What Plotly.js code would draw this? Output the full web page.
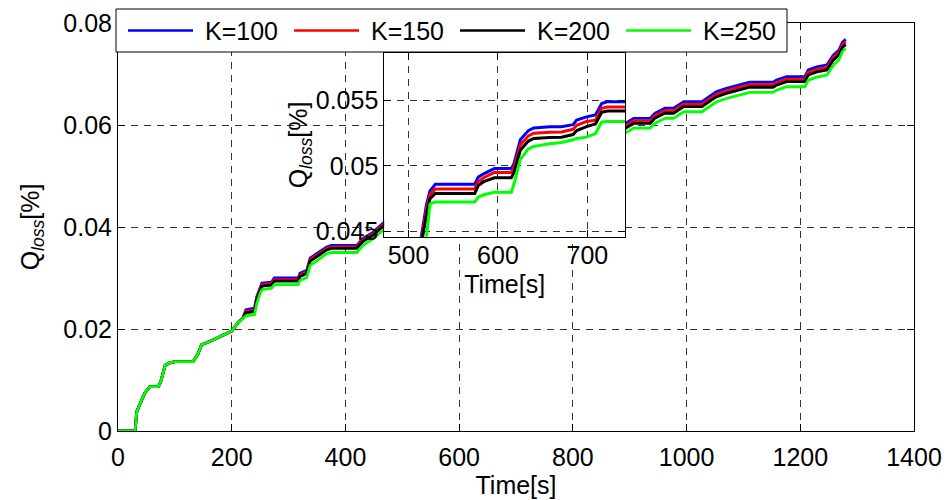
<!DOCTYPE html>
<html><head><meta charset="utf-8">
<script src="https://cdn.plot.ly/plotly-3.0.1.min.js"></script>
<style>html,body{margin:0;padding:0;background:#fff}#chart{width:946px;height:500px}</style>
</head><body><div id="chart"></div>
<script>
// time points [s]
const timeEarly = [0,30,33,40,47,56,71,75,83,90,100,132,140,147,155,162,170,179,190,200,212,220];
const timeLate = [225,240,244,250,253,270,275,317,320,332,338,350,367,375,420,431,449,466,480,505,514,520,524,530,574,578,584,596,615,618,625,634,640,658,671,684,688,699,709,716,722,745,760,800,850,880,892,907,936,944,962,977,995,1027,1052,1070,1093,1111,1152,1158,1176,1208,1214,1229,1247,1258,1268,1274,1280];
// shared early part (all K identical)
const qEarly = [0,0,0.0038,0.0055,0.0074,0.0087,0.0087,0.0096,0.0129,0.0133,0.0136,0.0136,0.0150,0.0169,0.0172,0.0176,0.0180,0.0185,0.0191,0.0196,0.0214,0.0222];
const qK100 = [0.0238,0.0241,0.0263,0.0282,0.0290,0.0292,0.0300,0.0300,0.0309,0.0315,0.0339,0.0348,0.0361,0.0364,0.0364,0.0378,0.0390,0.0407,0.0420,0.0440,0.0445,0.0470,0.0481,0.0486,0.0486,0.04915,0.0494,0.0498,0.0498,0.0502,0.0520,0.0527,0.0529,0.0530,0.0530,0.05315,0.0535,0.05375,0.0539,0.05477,0.0549,0.0549,0.0555,0.0575,0.0590,0.0598,0.0603,0.0613,0.0613,0.0623,0.0633,0.0633,0.0646,0.0646,0.0665,0.0672,0.0678,0.0684,0.0684,0.0688,0.0695,0.0695,0.0708,0.0714,0.0718,0.0737,0.0747,0.0762,0.0768];
const qK150 = [0.0235,0.0237,0.0260,0.0279,0.0287,0.0289,0.0297,0.0297,0.0306,0.0312,0.0336,0.0345,0.0358,0.0361,0.0361,0.0375,0.0387,0.0404,0.0417,0.0437,0.0442,0.0466,0.0478,0.04825,0.04825,0.0488,0.0491,0.0495,0.0495,0.0499,0.0516,0.0523,0.0525,0.05257,0.0526,0.0528,0.0531,0.0534,0.0535,0.0544,0.0545,0.0545,0.0550,0.0570,0.0585,0.0593,0.0598,0.0608,0.0608,0.0618,0.0628,0.0628,0.0641,0.0641,0.0660,0.0667,0.0673,0.0679,0.0679,0.0683,0.0690,0.0690,0.0703,0.0709,0.0713,0.0732,0.0742,0.0757,0.0763];
const qK200 = [0.0232,0.0234,0.0257,0.0276,0.0284,0.0286,0.0294,0.0294,0.0303,0.0309,0.0333,0.0342,0.0355,0.0358,0.0358,0.0372,0.0384,0.0401,0.0414,0.0434,0.0439,0.0462,0.0475,0.0479,0.0479,0.0485,0.0488,0.0491,0.0491,0.0495,0.0512,0.0519,0.0521,0.05218,0.0522,0.0524,0.0527,0.0530,0.0532,0.0541,0.0542,0.0542,0.0547,0.0566,0.0581,0.0589,0.0593,0.0603,0.0603,0.0613,0.0623,0.0623,0.0636,0.0636,0.0655,0.0662,0.0668,0.0674,0.0674,0.0678,0.0685,0.0685,0.0698,0.0704,0.0708,0.0727,0.0737,0.0752,0.0758];
const qK250 = [0.0226,0.0228,0.0250,0.0270,0.0277,0.0280,0.0287,0.0287,0.0295,0.0301,0.0325,0.0334,0.0348,0.0350,0.0350,0.0364,0.0377,0.0394,0.0407,0.0427,0.0432,0.0445,0.0471,0.04725,0.04725,0.04762,0.0478,0.0480,0.0480,0.04864,0.0505,0.0513,0.0515,0.0517,0.0518,0.0520,0.0521,0.0522,0.05247,0.05336,0.0534,0.0534,0.0538,0.0557,0.0572,0.0580,0.0584,0.0594,0.0594,0.0603,0.0613,0.0613,0.0626,0.0626,0.0645,0.0652,0.0658,0.0664,0.0664,0.0668,0.0675,0.0675,0.0688,0.0694,0.0698,0.0717,0.0728,0.0744,0.0750];
const seriesNames = ['K=100','K=150','K=200','K=250'];
const seriesLate = [qK100, qK150, qK200, qK250];
const seriesColors = ['#0000ff','#ff0000','#000000','#00ff00'];
const xTickVals = [0,200,400,600,800,1000,1200,1400];
const yTickVals = [0,0.02,0.04,0.06,0.08];
const yTickText = ['0','0.02','0.04','0.06','0.08'];
const insetXTickVals = [500,600,700];
const insetYTickVals = [0.045,0.05,0.055];
const insetYTickText = ['0.045','0.05','0.055'];

const time = timeEarly.concat(timeLate);
const FONT = 'Liberation Sans, Arial, Helvetica, sans-serif';
const FS = 25;
const traces = [];
seriesNames.forEach((name, i) => {
  const q = qEarly.concat(seriesLate[i]);
  traces.push({x: time, y: q, type: 'scatter', mode: 'lines', name: name,
    line: {color: seriesColors[i], width: 2.8}, xaxis: 'x', yaxis: 'y', showlegend: false});
});
seriesNames.forEach((name, i) => {
  const q = qEarly.concat(seriesLate[i]);
  traces.push({x: time, y: q, type: 'scatter', mode: 'lines', name: name,
    line: {color: seriesColors[i], width: 3}, xaxis: 'x2', yaxis: 'y2', showlegend: false});
});

const insetXRange = [473, 742];
const insetYRange = [0.0446, 0.0586];
const gridStyle = {showgrid: true, gridcolor: '#333', gridwidth: 1, griddash: '7px,6px'};
const axisStyle = Object.assign({showline: true, linecolor: '#000', linewidth: 1, mirror: 'ticks',
  ticks: 'inside', ticklen: 7, tickcolor: '#000', zeroline: false, automargin: false,
  tickfont: {size: FS, color: '#000', family: FONT}}, gridStyle);

// hand-built legend (box + line swatches + labels), paper coordinates
const P = (px) => (px - 118) / 796;
const Q = (py) => (431 - py) / 408;
const legendSwatchX = [128, 294, 460, 626];
const shapes = [{type: 'rect', xref: 'x2', yref: 'y2', x0: insetXRange[0], x1: insetXRange[1],
  y0: insetYRange[0], y1: insetYRange[1], fillcolor: '#fff', line: {width: 0}, layer: 'below'},
  {type: 'rect', xref: 'paper', yref: 'paper', x0: P(116), x1: P(787), y0: Q(52), y1: Q(9),
   fillcolor: '#fff', line: {color: '#000', width: 1}, layer: 'above'}];
const annotations = [];
seriesNames.forEach((name, i) => {
  const sx = legendSwatchX[i];
  shapes.push({type: 'line', xref: 'paper', yref: 'paper', x0: P(sx), x1: P(sx + 65), y0: Q(30.5), y1: Q(30.5),
    line: {color: seriesColors[i], width: 2.6}, layer: 'above'});
  annotations.push({xref: 'paper', yref: 'paper', x: P(sx + 75), y: Q(30.5), xanchor: 'left', yanchor: 'middle',
    text: name, showarrow: false, font: {size: FS, family: FONT, color: '#000'}});
});

const layout = {
  width: 946, height: 500,
  margin: {l: 118, r: 32, t: 23, b: 69},
  paper_bgcolor: '#fff', plot_bgcolor: '#fff',
  font: {family: FONT, color: '#000', size: FS},
  showlegend: false,
  xaxis: Object.assign({}, axisStyle, {range: [0, 1400], tickvals: xTickVals, ticklabelstandoff: 4,
    title: {text: 'Time[s]', font: {size: FS}, standoff: 3}}),
  yaxis: Object.assign({}, axisStyle, {range: [0, 0.08], tickvals: yTickVals, ticktext: yTickText,
    title: {text: 'Q<sub><i>loss</i></sub>[%]', font: {size: FS}, standoff: 16}}),
  xaxis2: Object.assign({}, axisStyle, {domain: [0.3346, 0.6369], anchor: 'y2', range: insetXRange,
    tickvals: insetXTickVals, ticklabelstandoff: -4, title: {text: 'Time[s]', font: {size: FS}, standoff: 7}}),
  yaxis2: Object.assign({}, axisStyle, {domain: [0.4762, 0.9257], anchor: 'x2', range: insetYRange,
    tickvals: insetYTickVals, ticktext: insetYTickText,
    title: {text: 'Q<sub><i>loss</i></sub>[%]', font: {size: FS}, standoff: 0}}),
  shapes: shapes,
  annotations: annotations
};
Plotly.newPlot('chart', traces, layout, {displayModeBar: false, staticPlot: true});
</script>
</body></html>
